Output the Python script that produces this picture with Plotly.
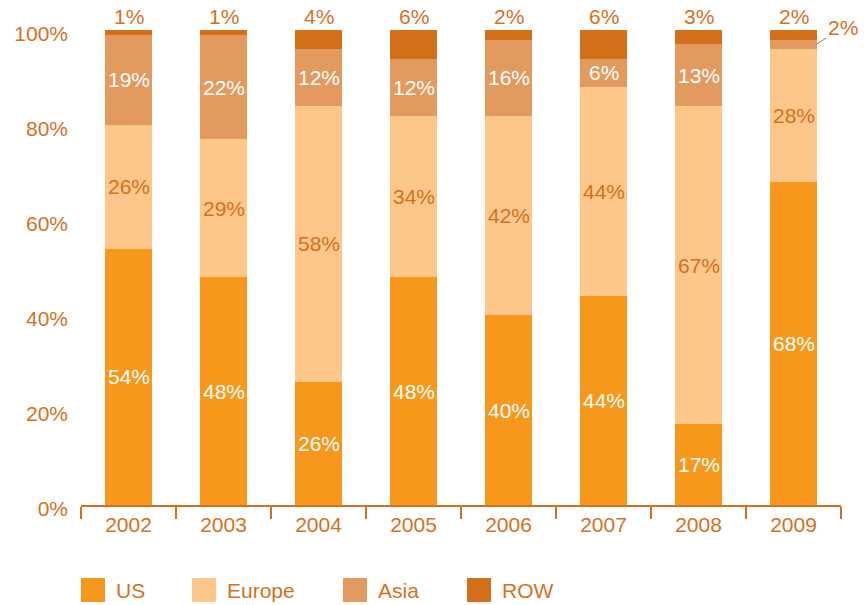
import plotly.graph_objects as go

years = ["2002", "2003", "2004", "2005", "2006", "2007", "2008", "2009"]
us = [54, 48, 26, 48, 40, 44, 17, 68]
europe = [26, 29, 58, 34, 42, 44, 67, 28]
asia = [19, 22, 12, 12, 16, 6, 13, 2]
row = [1, 1, 4, 6, 2, 6, 3, 2]

series = [
    ("US", us, "#F7981D", "white"),
    ("Europe", europe, "#FDC78A", "#D4711F"),
    ("Asia", asia, "#E29A5E", "white"),
    ("ROW", row, "#D46F19", "#D4711F"),
]
text_color = "#D4711F"
font_family = "Liberation Sans, Arial, sans-serif"
fsize = 21
bar_width = 0.485

fig = go.Figure()
for name, vals, color, _ in series:
    fig.add_trace(go.Bar(
        x=years, y=vals, name=name, marker_color=color,
        marker_line_width=0, width=bar_width, showlegend=False,
    ))

annotations = []
base = [0] * len(years)
for name, vals, color, lab_color in series:
    for i, v in enumerate(vals):
        label = f"{v}%"
        if name == "ROW":
            annotations.append(dict(
                x=i, y=base[i] + v, text=label, showarrow=False,
                yanchor="bottom", yshift=0,
                font=dict(size=fsize, color=text_color, family=font_family)))
        elif name == "Asia" and v < 4:
            # thin segment: label sits beside the bar with a leader line
            annotations.append(dict(
                x=i + bar_width / 2, y=base[i] + v / 2, text=label,
                showarrow=True, ax=26, ay=-17, arrowhead=0, arrowwidth=1,
                arrowcolor=text_color, standoff=0, startstandoff=0,
                font=dict(size=fsize, color=text_color, family=font_family)))
        else:
            annotations.append(dict(
                x=i, y=base[i] + v / 2, text=label, showarrow=False,
                font=dict(size=fsize, color=lab_color, family=font_family)))
        base[i] += v

# legend drawn as squares with labels beneath the axis
legend_x = [81, 192, 343, 467]
shapes = []
for (name, _, color, _), lx in zip(series, legend_x):
    shapes.append(dict(type="rect", xref="paper", yref="paper",
                       x0=(lx - 81) / 760, x1=(lx + 24 - 81) / 760,
                       y0=(505 - 602) / 475, y1=(505 - 578) / 475,
                       fillcolor=color, line_width=0))
    annotations.append(dict(xref="paper", yref="paper",
                            x=(lx + 33 - 81) / 760, y=(505 - 590) / 475,
                            text=name, showarrow=False, xanchor="left",
                            yanchor="middle",
                            font=dict(size=fsize, color=text_color, family=font_family)))

fig.update_layout(
    barmode="stack",
    width=864, height=605,
    margin=dict(l=81, r=23, t=30, b=100),
    plot_bgcolor="white", paper_bgcolor="white",
    font=dict(family=font_family, size=fsize, color=text_color),
    annotations=annotations,
    shapes=shapes,
    showlegend=False,
    xaxis=dict(
        type="category",
        showline=True, linecolor=text_color, linewidth=2,
        ticks="outside", tickson="boundaries", ticklen=12, tickwidth=2,
        tickcolor=text_color, showgrid=False, range=[-0.5, 7.5],
        tickfont=dict(size=fsize, color=text_color),
    ),
    yaxis=dict(
        range=[0, 100], tickvals=[0, 20, 40, 60, 80, 100],
        ticktext=["0%", "20%", "40%", "60%", "80%", "100%"],
        showgrid=False, zeroline=False, showline=False, ticks="",
        ticklabelstandoff=12, ticklabelshift=4,
        tickfont=dict(size=fsize, color=text_color),
    ),
)

fig.write_html("out.html")
